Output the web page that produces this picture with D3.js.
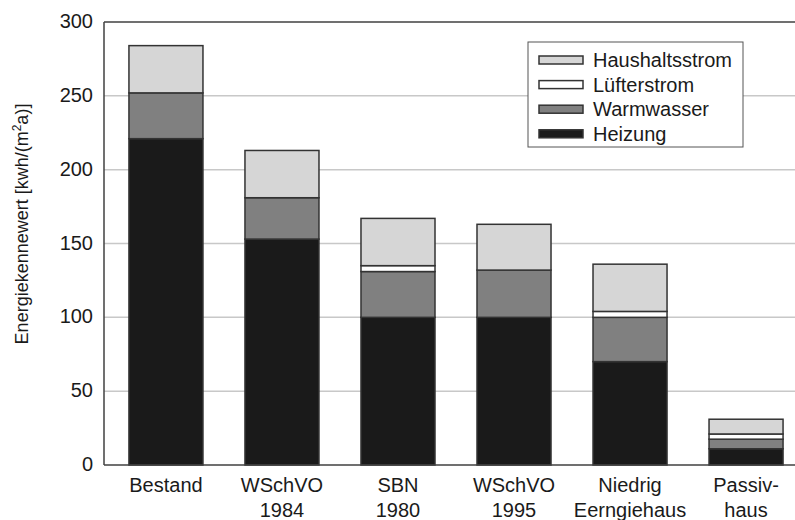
<!DOCTYPE html>
<html>
<head>
<meta charset="utf-8">
<script src="https://cdn.jsdelivr.net/npm/d3@7"></script>
<style>
  html, body { margin: 0; padding: 0; background: #fff; }
  svg { display: block; font-family: "Liberation Sans", Arial, sans-serif; }
</style>
</head>
<body>
<svg id="chart" width="795" height="520"></svg>
<script>
// ---- data ----
const categories = [["Bestand"], ["WSchVO", "1984"], ["SBN", "1980"], ["WSchVO", "1995"], ["Niedrig", "Eerngiehaus"], ["Passiv-", "haus"]];
const seriesNames = ["Heizung", "Warmwasser", "Lüfterstrom", "Haushaltsstrom"];
const heizung = [221, 153, 100, 100, 70, 11];
const warmwasser = [31, 28, 31, 32, 30, 6.5];
const luefterstrom = [0, 0, 4, 0, 4, 3.5];
const haushaltsstrom = [32, 32, 32, 31, 32, 10];
const yTicks = [0, 50, 100, 150, 200, 250, 300];
const colors = ["#1a1a1a", "#808080", "#ffffff", "#d6d6d6"];

const seriesValues = [heizung, warmwasser, luefterstrom, haushaltsstrom];
const rows = categories.map((c, i) => {
  const r = { key: i };
  seriesNames.forEach((s, j) => r[s] = seriesValues[j][i]);
  return r;
});

const svg = d3.select("#chart");
const mLeft = 104, mTop = 22, mBottom = 465, mRightEdge = 808;

const x = d3.scaleBand().domain(categories.map((c, i) => i)).range([mLeft, mRightEdge]).paddingInner(0.362).paddingOuter(0.215);
const y = d3.scaleLinear().domain([0, 300]).range([mBottom, mTop]);

// gridlines
svg.append("g").selectAll("line").data(yTicks.filter(t => t > 0 && t < 300)).join("line")
  .attr("x1", mLeft).attr("x2", 795).attr("y1", d => y(d)).attr("y2", d => y(d))
  .attr("stroke", "#c8c8c8").attr("stroke-width", 1.5);

// stacked bars
const stack = d3.stack().keys(seriesNames)(rows);
svg.append("g").selectAll("g").data(stack).join("g")
  .attr("fill", (d, i) => colors[i])
  .selectAll("rect").data(d => d.filter(p => p[1] - p[0] > 0)).join("rect")
  .attr("x", d => x(d.data.key))
  .attr("width", x.bandwidth())
  .attr("y", d => y(d[1]))
  .attr("height", d => y(d[0]) - y(d[1]))
  .attr("stroke", "#333")
  .attr("stroke-width", 1.5);

// frame (left, top, bottom)
const frame = svg.append("g").attr("stroke", "#404040").attr("stroke-width", 1.5).attr("fill", "none");
frame.append("line").attr("x1", mLeft).attr("x2", mLeft).attr("y1", y(300)).attr("y2", y(0));
frame.append("line").attr("x1", mLeft).attr("x2", 795).attr("y1", y(300)).attr("y2", y(300));
frame.append("line").attr("x1", mLeft).attr("x2", 795).attr("y1", y(0)).attr("y2", y(0));

// y axis
const yAxis = d3.axisLeft(y).tickValues(yTicks).tickSize(0).tickPadding(11);
const gy = svg.append("g").attr("transform", `translate(${mLeft},0)`).call(yAxis);
gy.select(".domain").remove();
gy.selectAll("text").attr("font-size", 20).attr("fill", "#1a1a1a").attr("font-family", "Liberation Sans, Arial, sans-serif").attr("dy", "0.28em");

// x axis labels
const gx = svg.append("g");
categories.forEach((lines, i) => {
  const t = gx.append("text").attr("x", x(i) + x.bandwidth() / 2).attr("y", 492)
    .attr("text-anchor", "middle").attr("font-size", 20).attr("fill", "#1a1a1a");
  lines.forEach((l, k) => t.append("tspan").attr("x", x(i) + x.bandwidth() / 2).attr("dy", k === 0 ? 0 : 25).text(l));
});

// y title
const yt = svg.append("text").attr("transform", "translate(28,224) rotate(-90)")
  .attr("text-anchor", "middle").attr("font-size", 18).attr("fill", "#1a1a1a");
yt.append("tspan").text("Energiekennewert [kwh/(m");
yt.append("tspan").attr("font-size", 12).attr("dy", -7).text("2");
yt.append("tspan").attr("dy", 7).text("a)]");

// legend
const lg = svg.append("g");
lg.append("rect").attr("x", 528).attr("y", 42).attr("width", 215).attr("height", 105)
  .attr("fill", "#fff").attr("stroke", "#555").attr("stroke-width", 1);
const legendOrder = [3, 2, 1, 0];
legendOrder.forEach((si, k) => {
  const cy = 60 + k * 24.6;
  lg.append("rect").attr("x", 539).attr("y", cy - 4).attr("width", 44).attr("height", 8)
    .attr("fill", colors[si]).attr("stroke", "#333").attr("stroke-width", 1.5);
  lg.append("text").attr("x", 593).attr("y", cy + 7).attr("font-size", 20).attr("fill", "#1a1a1a").text(seriesNames[si]);
});
</script>
</body>
</html>
